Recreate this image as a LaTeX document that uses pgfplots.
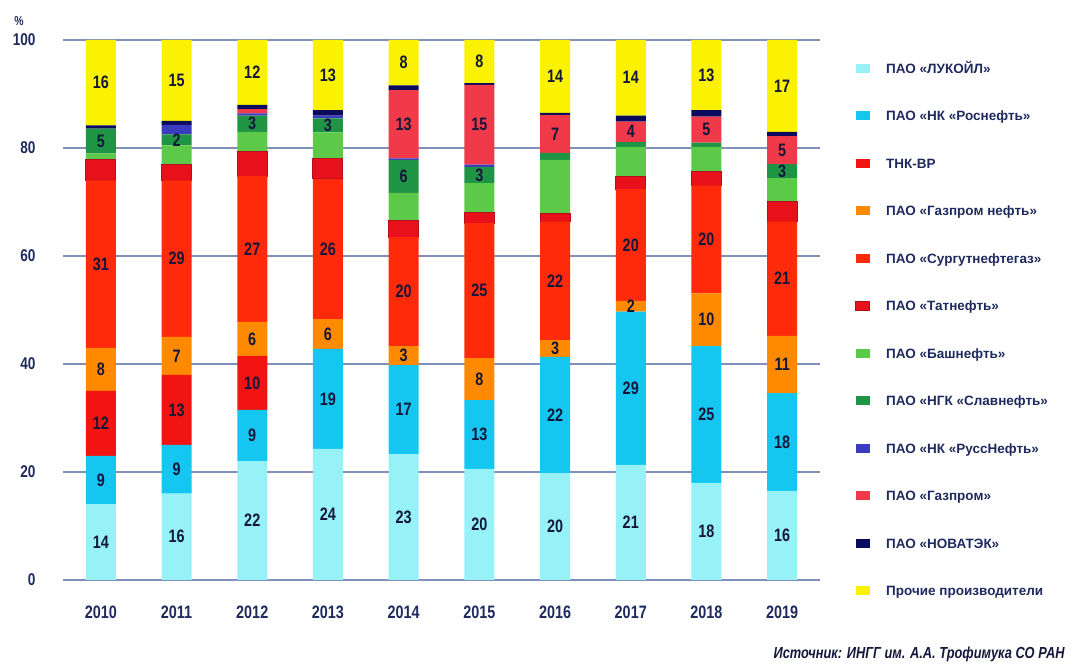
\documentclass[border=0pt]{standalone}
\usepackage{fontspec}
\setmainfont{Liberation Sans}
\newfontfamily\cond{Liberation Sans}[FakeStretch=0.8]
\usepackage{pgfplots}
\pgfplotsset{compat=1.18}
\usepackage{pgfplotstable}

\definecolor{cL}{HTML}{96F2F7}
\definecolor{cR}{HTML}{14C6F0}
\definecolor{cTNK}{HTML}{F21410}
\definecolor{cGN}{HTML}{FF8A00}
\definecolor{cS}{HTML}{FF2A0A}
\definecolor{cT}{HTML}{E8101A}
\definecolor{cTd}{HTML}{B30F1E}
\definecolor{cB}{HTML}{5DC948}
\definecolor{cSl}{HTML}{1F9444}
\definecolor{cRN}{HTML}{3B3BC0}
\definecolor{cG}{HTML}{F03A4A}
\definecolor{cN}{HTML}{0B0B5E}
\definecolor{cO}{HTML}{FAF200}
\definecolor{gridc}{HTML}{8090B8}
\definecolor{txtc}{HTML}{1E2A5E}
\definecolor{numc}{HTML}{15173A}

\pgfplotstableread{
x L R TNK GN S T B Sl RN G N O
0 14 9 12 8 31 3.8 1.2 4.6 0 0 0.6 15.8
1 16 9 13 7 29 3 3.5 2 1.8 0 0.7 15
2 22 9.5 10 6.3 27 4.5 3.7 3 0.4 0.8 0.8 12
3 24.3 18.5 0 5.5 26 3.7 4.9 2.6 0.5 0 1 13
4 23.3 16.5 0 3.5 20.2 3 5.2 6.1 0.3 12.6 0.9 8.4
5 20.6 12.7 0 7.8 25 2 5.4 3 0.4 14.8 0.3 8
6 19.8 21.5 0 3.1 22 1.5 9.9 1.3 0 7 0.4 13.5
7 21.3 28.4 0 2 20.7 2.4 5.4 0.9 0 3.8 1.1 14
8 18 25.3 0 9.8 20 2.5 4.6 0.8 0 4.8 1.2 13
9 16.5 18.1 0 10.6 21.2 3.6 4.4 2.6 0 5.2 0.8 17
}\data

\pgfplotsset{
  leg/.style={legend image code/.code={\path[##1] (0pt,0.5pt) rectangle (14pt,9.5pt);}},
}

\begin{document}
\begin{tikzpicture}
\begin{axis}[
  name=ax, at={(0,0)}, anchor=south west,
  scale only axis, width=757pt, height=540pt,
  ybar stacked, bar width=30pt,
  xmin=-0.5, xmax=9.5, ymin=0, ymax=100,
  xtick={0,1,2,3,4,5,6,7,8,9},
  xticklabels={2010,2011,2012,2013,2014,2015,2016,2017,2018,2019},
  ytick={0,20,40,60,80,100},
  ymajorgrids, grid style={color=gridc, line width=1.3pt},
  axis line style={draw=none}, major tick length=0pt,
  /pgf/number format/assume math mode=true,
  yticklabel style={font=\cond\bfseries\fontsize{17}{17}\selectfont, text=txtc, xshift=-24pt},
  xticklabel style={font=\cond\bfseries\fontsize{18}{18}\selectfont, text=txtc, yshift=-22pt},
  legend cell align=left,
  legend style={draw=none, fill=none, at={(1,1)}, anchor=north west, xshift=35pt, yshift=-23pt,
    font=\bfseries\fontsize{13.5}{14}\selectfont, text=txtc, row sep=37.5pt, column sep=16pt, inner sep=0pt,
    nodes={inner sep=0pt, text height=10pt, text depth=0pt, anchor=base west}},
]
\addplot[fill=cL, draw=none, leg] table[x=x, y=L] {\data};
\addlegendentry{ПАО «ЛУКОЙЛ»}
\addplot[fill=cR, draw=none, leg] table[x=x, y=R] {\data};
\addlegendentry{ПАО «НК «Роснефть»}
\addplot[fill=cTNK, draw=none, leg] table[x=x, y=TNK] {\data};
\addlegendentry{ТНК-ВР}
\addplot[fill=cGN, draw=none, leg] table[x=x, y=GN] {\data};
\addlegendentry{ПАО «Газпром нефть»}
\addplot[fill=cS, draw=none, leg] table[x=x, y=S] {\data};
\addlegendentry{ПАО «Сургутнефтегаз»}
\addplot[fill=cT, draw=cTd, line width=1pt, leg] table[x=x, y=T] {\data};
\addlegendentry{ПАО «Татнефть»}
\addplot[fill=cB, draw=none, leg] table[x=x, y=B] {\data};
\addlegendentry{ПАО «Башнефть»}
\addplot[fill=cSl, draw=none, leg] table[x=x, y=Sl] {\data};
\addlegendentry{ПАО «НГК «Славнефть»}
\addplot[fill=cRN, draw=none, leg] table[x=x, y=RN] {\data};
\addlegendentry{ПАО «НК «РуссНефть»}
\addplot[fill=cG, draw=none, leg] table[x=x, y=G] {\data};
\addlegendentry{ПАО «Газпром»}
\addplot[fill=cN, draw=none, leg] table[x=x, y=N] {\data};
\addlegendentry{ПАО «НОВАТЭК»}
\addplot[fill=cO, draw=none, leg] table[x=x, y=O] {\data};
\addlegendentry{Прочие производители}
\end{axis}

\begin{axis}[
  at={(0,0)}, anchor=south west,
  scale only axis, width=757pt, height=540pt,
  xmin=-0.5, xmax=9.5, ymin=0, ymax=100, hide axis,
  nodes near coords, point meta=explicit symbolic,
  every node near coord/.append style={anchor=center, inner sep=0pt,
    font=\cond\bfseries\fontsize{18}{18}\selectfont, text=numc},
]
\addplot[draw=none, mark=none] coordinates {
(0,7)[14] (0,18.5)[9] (0,29)[12] (0,39)[8] (0,58.5)[31] (0,81.3)[5] (0,92.1)[16]
(1,8)[16] (1,20.5)[9] (1,31.5)[13] (1,41.5)[7] (1,59.5)[29] (1,81.5)[2] (1,92.5)[15]
(2,11)[22] (2,26.75)[9] (2,36.5)[10] (2,44.65)[6] (2,61.3)[27] (2,84.5)[3] (2,94)[12]
(3,12.15)[24] (3,33.55)[19] (3,45.55)[6] (3,61.3)[26] (3,84.2)[3] (3,93.5)[13]
(4,11.65)[23] (4,31.55)[17] (4,41.55)[3] (4,53.4)[20] (4,74.75)[6] (4,84.4)[13] (4,95.8)[8]
(5,10.3)[20] (5,26.95)[13] (5,37.2)[8] (5,53.6)[25] (5,75)[3] (5,84.3)[15] (5,96)[8]
(6,9.9)[20] (6,30.55)[22] (6,42.85)[3] (6,55.4)[22] (6,82.6)[7] (6,93.25)[14]
(7,10.65)[21] (7,35.5)[29] (7,50.7)[2] (7,62.05)[20] (7,83)[4] (7,93)[14]
(8,9)[18] (8,30.65)[25] (8,48.2)[10] (8,63.1)[20] (8,83.4)[5] (8,93.5)[13]
(9,8.25)[16] (9,25.55)[18] (9,39.9)[11] (9,55.8)[21] (9,75.7)[3] (9,79.6)[5] (9,91.5)[17]
};
\end{axis}

\node[font=\cond\bfseries\fontsize{13}{13}\selectfont, text=txtc] at ([shift={(-44pt,559pt)}]ax.south west) {\%};
\node[anchor=east, font=\cond\bfseries\itshape\fontsize{16}{16}\selectfont, text=numc] at ([shift={(1005pt,-74pt)}]ax.south west) {Источник: ИНГГ им. А.А. Трофимука СО РАН};

\pgfresetboundingbox
\path ([shift={(-63pt,-86pt)}]ax.south west) rectangle ([shift={(1009pt,580pt)}]ax.south west);
\end{tikzpicture}
\end{document}
